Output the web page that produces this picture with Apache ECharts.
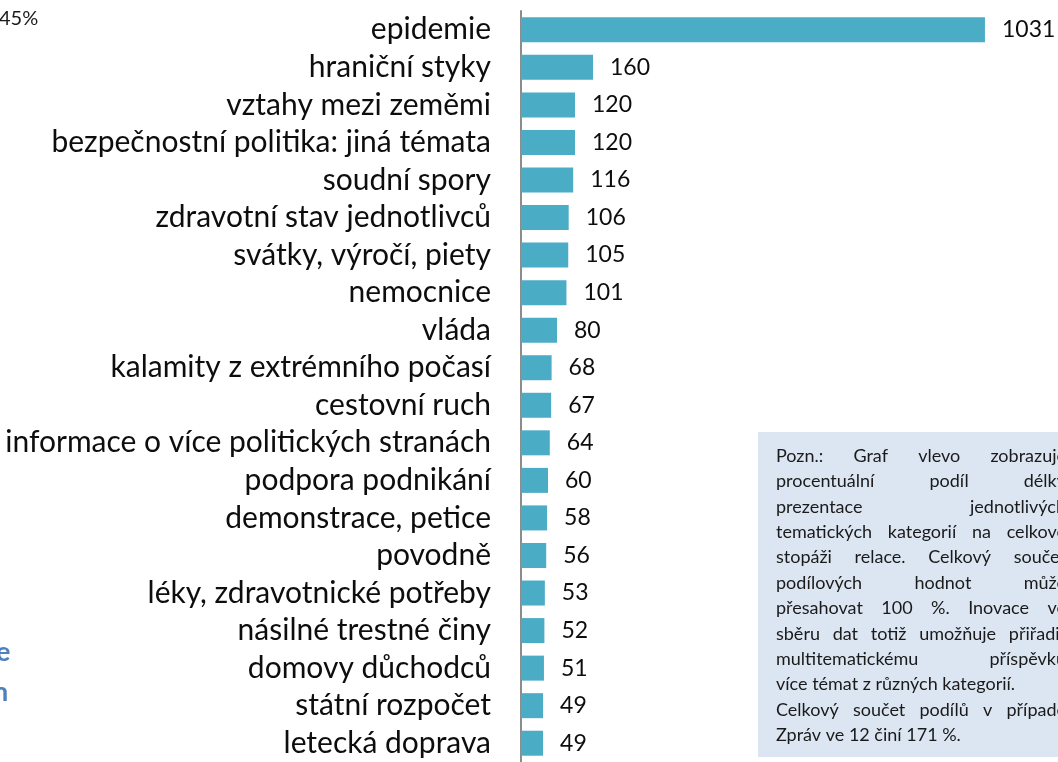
<!DOCTYPE html>
<html><head><meta charset="utf-8">
<script src="https://cdn.jsdelivr.net/npm/echarts@6/dist/echarts.min.js"></script>
<style>html,body{margin:0;padding:0;background:#fff}#c{width:1058px;height:762px}</style>
</head><body><div id="c"></div>
<script>
const categories = ["epidemie","hraniční styky","vztahy mezi zeměmi","bezpečnostní politika: jiná témata","soudní spory","zdravotní stav jednotlivců","svátky, výročí, piety","nemocnice","vláda","kalamity z extrémního počasí","cestovní ruch","informace o více politických stranách","podpora podnikání","demonstrace, petice","povodně","léky, zdravotnické potřeby","násilné trestné činy","domovy důchodců","státní rozpočet","letecká doprava"];
const values = [1031,160,120,120,116,106,105,101,80,68,67,64,60,58,56,53,52,51,49,49];
const noteLines = ["Pozn.: Graf vlevo zobrazuje","procentuální podíl délky","prezentace jednotlivých","tematických kategorií na celkové","stopáži relace. Celkový součet","podílových hodnot může","přesahovat 100 %. Inovace ve","sběru dat totiž umožňuje přiřadit","multitematickému příspěvku","více témat z různých kategorií.","Celkový součet podílů v případě","Zpráv ve 12 činí 171 %."];
const noteJustify = [true,true,true,true,true,true,true,true,true,false,true,false];

const FONT = 'Lato, "Open Sans", sans-serif';
const chart = echarts.init(document.getElementById('c'));

// justified note text
const noteSize = 18;
const cv = document.createElement('canvas').getContext('2d');
cv.font = noteSize + 'px Lato';
const nx0 = 776, ny0 = 456, nstep = 25.4;
let maxW = 0;
noteLines.forEach((ln, i) => { if (noteJustify[i]) maxW = Math.max(maxW, cv.measureText(ln).width); });
const nx1 = Math.max(1066, nx0 + maxW);
const tStyle = (t) => ({text:t, fontSize:noteSize, fontFamily:'Lato', fill:'#1a1a1a', textVerticalAlign:'middle'});
const noteEls = [];
noteLines.forEach((ln, i) => {
  const y = ny0 + i * nstep;
  if (!noteJustify[i]) {
    noteEls.push({type:'text', x:nx0, y:y, style:tStyle(ln)});
    return;
  }
  const words = ln.split(' ');
  const wsum = words.reduce((s,w)=>s+cv.measureText(w).width,0);
  const gap = (nx1 - nx0 - wsum) / (words.length - 1);
  let x = nx0;
  words.forEach(w => {
    noteEls.push({type:'text', x:x, y:y, style:tStyle(w)});
    x += cv.measureText(w).width + gap;
  });
});

chart.setOption({
  animation:false,
  grid:{left:521, top:11, width:495, bottom:-3},
  xAxis:{type:'value', min:0, max:1100, show:false},
  yAxis:{type:'category', data:categories, inverse:true,
    axisLine:{lineStyle:{color:'#8c8c8c', width:2}},
    axisTick:{length:9, interval:0, lineStyle:{color:'#8c8c8c', width:2}},
    axisLabel:{interval:0, fontFamily:FONT, fontSize:30, color:'#0d0d0d', margin:30}},
  series:[{type:'bar', data:values, barWidth:25, itemStyle:{color:'#4BACC6'},
    label:{show:true, position:'right', distance:17, fontFamily:FONT, fontSize:23, color:'#0d0d0d'}}],
  graphic:[
    {type:'text', left:-1, top:9, style:{text:'45%', fontSize:20, fontFamily:'Lato', fill:'#1a1a1a'}},
    {type:'text', left:-4, top:639, style:{text:'e', fontSize:27, fontWeight:'bold', fontFamily:'Lato', fill:'#4F81BD'}},
    {type:'text', left:-7, top:679, style:{text:'n', fontSize:27, fontWeight:'bold', fontFamily:'Lato', fill:'#4F81BD'}},
    {type:'rect', shape:{x:758, y:432, width:320, height:325}, style:{fill:'#DCE6F2'}},
    {type:'group', children:noteEls}
  ]
});
</script></body></html>
